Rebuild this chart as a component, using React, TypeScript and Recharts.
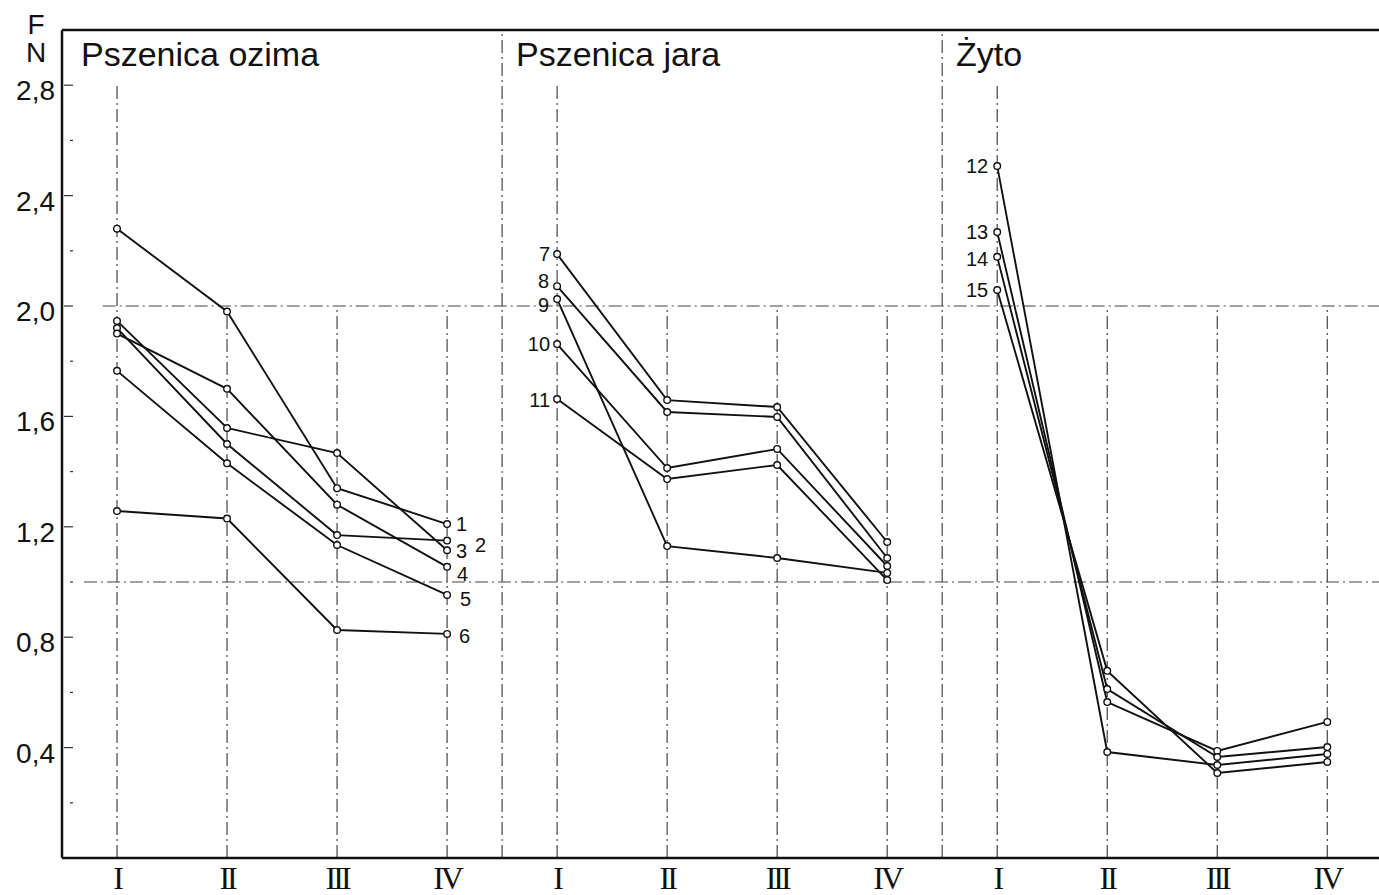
import { LineChart, Line, XAxis, YAxis, ReferenceLine } from "recharts"

// x positions: 4 terms (I-IV) per crop panel, panels side by side
const romans = ["I", "II", "III", "IV"]
const panelTitles = ["Pszenica ozima", "Pszenica jara", "Żyto"]

// F/N values for each numbered series, read at I, II, III, IV
const s1 = [2.28, 1.98, 1.34, 1.21]
const s2 = [1.92, 1.5, 1.17, 1.15]
const s3 = [1.946, 1.558, 1.467, 1.115]
const s4 = [1.9, 1.7, 1.28, 1.055]
const s5 = [1.765, 1.43, 1.134, 0.953]
const s6 = [1.257, 1.23, 0.826, 0.812]

const s7 = [2.188, 1.659, 1.634, 1.145]
const s8 = [2.072, 1.616, 1.598, 1.087]
const s9 = [2.025, 1.13, 1.087, 1.033]
const s10 = [1.862, 1.413, 1.482, 1.058]
const s11 = [1.663, 1.373, 1.424, 1.007]

const s12 = [2.507, 0.384, 0.337, 0.377]
const s13 = [2.268, 0.565, 0.388, 0.493]
const s14 = [2.178, 0.612, 0.366, 0.402]
const s15 = [2.058, 0.678, 0.308, 0.348]

const seriesValues = [s1, s2, s3, s4, s5, s6, s7, s8, s9, s10, s11, s12, s13, s14, s15]
const seriesNames = ["1", "2", "3", "4", "5", "6", "7", "8", "9", "10", "11", "12", "13", "14", "15"]
const seriesPanel = [0, 0, 0, 0, 0, 0, 1, 1, 1, 1, 1, 2, 2, 2, 2]

const yTicks = [0.2, 0.4, 0.6, 0.8, 1.0, 1.2, 1.4, 1.6, 1.8, 2.0, 2.2, 2.4, 2.6, 2.8]
const yLabelled = [0.4, 0.8, 1.2, 1.6, 2.0, 2.4, 2.8]
const xTicks = [0, 1, 2, 3, 4, 5, 6, 7, 8, 9, 10, 11]
const dividers = [3.5, 7.5]

// label placement (styling only): [dx, dy] from the point the label sits at
const labelOffsets: [number, number][] = [
    [9, 7], [28, 11], [9, 8], [10, 14], [13, 11], [12, 9],
    [-7, 7], [-8, 2], [-8, 13], [-7, 7], [-7, 8],
    [-9, 7], [-9, 7], [-9, 9], [-9, 7],
]

const FONT = "'Liberation Sans', Arial, sans-serif"
const GRID = "#444"
const DASH = "13 4 2 4"

const lines = seriesValues.map((vals, k) => ({
    name: seriesNames[k],
    panel: seriesPanel[k],
    data: vals.map((v, i) => ({ x: seriesPanel[k] * 4 + i, y: v })),
}))

const Dot = (props: any) => {
    const { cx, cy } = props
    if (cx == null || cy == null) return null
    return <circle cx={cx} cy={cy} r={3.3} fill="#fff" stroke="#111" strokeWidth={1.4} />
}

const YTick = (props: any) => {
    const { x, y, payload } = props
    const v = payload.value
    const major = yLabelled.some((t) => Math.abs(t - v) < 1e-6)
    return (
        <g>
            <line x1={major ? x + 2 : x + 8} x2={x + 11} y1={y} y2={y} stroke="#333" strokeWidth={1.2} />
            {major && (
                <text x={x - 7} y={y + 15} textAnchor="end" fontSize={28} fontFamily={FONT} fill="#111">
                    {v.toFixed(1).replace(".", ",")}
                </text>
            )}
        </g>
    )
}

const XTick = (props: any) => {
    const { x, y, payload } = props
    return (
        <text x={x} y={y + 31} textAnchor="middle" fontSize={32} letterSpacing={-3} fontFamily="'Liberation Serif', 'DejaVu Serif', serif" fill="#111">
            {romans[payload.value % 4]}
        </text>
    )
}

const App = () => {
    return (
        <div style={{ position: "absolute", left: 0, top: 0, width: 1379, height: 895, background: "#fff" }}>
            <LineChart width={1379} height={895} margin={{ top: 30, right: 0, bottom: 0, left: 0 }}>
                <XAxis
                    type="number"
                    dataKey="x"
                    domain={[-0.5, 11.47]}
                    ticks={xTicks}
                    height={37}
                    tickSize={0}
                    tickMargin={0}
                    tick={<XTick />}
                    axisLine={{ stroke: "#111", strokeWidth: 2.5 }}
                    allowDuplicatedCategory={false}
                />
                <YAxis
                    type="number"
                    dataKey="y"
                    domain={[0, 3]}
                    ticks={yTicks}
                    width={62}
                    tickSize={0}
                    tickMargin={0}
                    tick={<YTick />}
                    axisLine={{ stroke: "#111", strokeWidth: 2.5 }}
                />

                {/* frame top */}
                <ReferenceLine y={3} stroke="#111" strokeWidth={2.5} />

                {/* dash-dot grid */}
                <ReferenceLine segment={[{ x: -0.13, y: 2 }, { x: 11.47, y: 2 }]} stroke={GRID} strokeWidth={1.2} strokeDasharray={DASH} />
                <ReferenceLine segment={[{ x: -0.3, y: 1 }, { x: 11.47, y: 1 }]} stroke={GRID} strokeWidth={1.2} strokeDasharray={DASH} />
                {xTicks.map((t) => (
                    <ReferenceLine
                        key={"v" + t}
                        segment={[{ x: t, y: 0 }, { x: t, y: t % 4 === 0 ? 2.8 : 2.0 }]}
                        stroke={GRID}
                        strokeWidth={1.2}
                        strokeDasharray={DASH}
                    />
                ))}
                {dividers.map((d) => (
                    <ReferenceLine key={"d" + d} segment={[{ x: d, y: 0 }, { x: d, y: 3 }]} stroke={GRID} strokeWidth={1.2} strokeDasharray={DASH} />
                ))}

                {lines.map((s, k) => (
                    <Line
                        key={s.name}
                        data={s.data}
                        dataKey="y"
                        type="linear"
                        stroke="#111"
                        strokeWidth={1.9}
                        dot={<Dot />}
                        activeDot={false}
                        isAnimationActive={false}
                        label={(p: any) => {
                            const at = s.panel === 0 ? 3 : 0
                            if (p.index !== at) return <g key={p.index} />
                            const [dx, dy] = labelOffsets[k]
                            return (
                                <text
                                    key={p.index}
                                    x={p.x + dx}
                                    y={p.y + dy}
                                    textAnchor={dx < 0 ? "end" : "start"}
                                    fontSize={20}
                                    fontFamily={FONT}
                                    fill="#111"
                                >
                                    {s.name}
                                </text>
                            )
                        }}
                    />
                ))}
            </LineChart>

            {/* F / N axis caption */}
            <div style={{ position: "absolute", left: 26, top: 11, fontFamily: FONT, fontSize: 28, lineHeight: "28px", color: "#111", textAlign: "center" }}>
                F<br />N
            </div>

            {/* panel titles */}
            {panelTitles.map((t, i) => (
                <div
                    key={t}
                    style={{
                        position: "absolute",
                        left: [81, 516, 956][i],
                        top: 36,
                        fontFamily: FONT,
                        fontSize: 34,
                        lineHeight: "36px",
                        color: "#111",
                        whiteSpace: "nowrap",
                    }}
                >
                    {t}
                </div>
            ))}
        </div>
    )
}

export default App
